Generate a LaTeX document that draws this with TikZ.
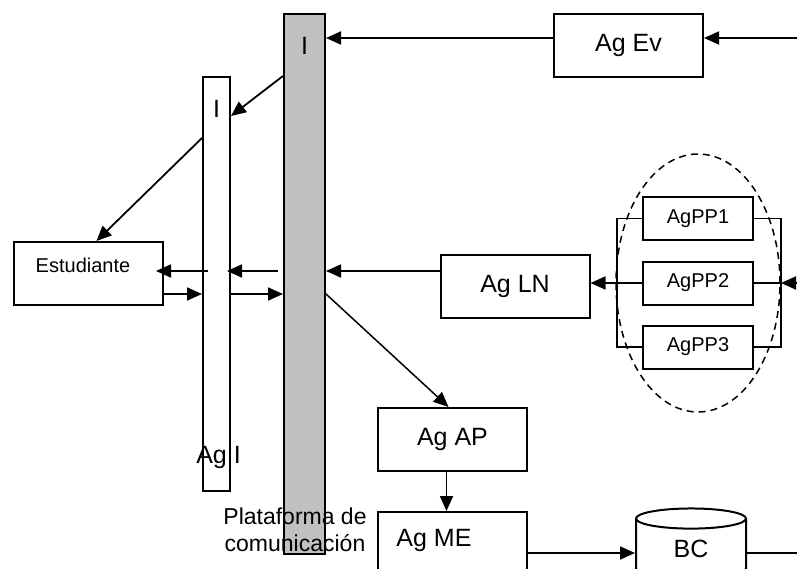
\documentclass[tikz,border=0pt]{standalone}
\usepackage{fontspec}
\setmainfont{Liberation Sans}
\usetikzlibrary{arrows.meta, shapes.geometric}

\newcommand{\agfont}{\fontsize{25}{30}\selectfont}
\newcommand{\ppfont}{\fontsize{20}{24}\selectfont}
\newcommand{\platfont}{\fontsize{23}{26.5}\selectfont}
\definecolor{platgray}{RGB}{192,192,192}

\begin{document}
\begin{tikzpicture}[
  x=1pt, y=-1pt,
  >={Triangle[length=15pt, width=13pt]},
  line width=1.8pt,
  % Node styles
  bar/.style={rectangle, draw, line width=2pt, inner sep=0pt},
  agent/.style={rectangle, draw, line width=2pt, inner sep=0pt, font=\agfont,
                minimum width=149pt, minimum height=63pt},
  ppbox/.style={rectangle, draw, line width=2pt, inner sep=0pt, font=\ppfont,
                minimum width=110pt, minimum height=43pt},
  txt/.style={inner sep=0pt, font=\agfont},
  % Edge styles
  arr/.style={->},
  link/.style={-}
]

\useasboundingbox (0,0) rectangle (797,569);
\clip (0,0) rectangle (797,569);

% ------------------------------------------------------------
% Bars: platform and Ag I
% ------------------------------------------------------------
\node[bar, fill=platgray, minimum width=41pt, minimum height=540pt] (plat) at (304.5,284) {};
\node[bar, minimum width=27pt, minimum height=414pt] (agi) at (216.5,284) {};

\node[txt] (platI) at (304.5,46) {I};
\node[txt] (agiI)  at (216.5,108.5) {I};
\node[txt] (agilbl) at (218.5,457) {Ag I};
\node[inner sep=0pt, font=\platfont, align=center] (platlbl) at (295,530) {Plataforma de\\comunicación};

% ------------------------------------------------------------
% Agents
% ------------------------------------------------------------
\node[agent] (est)  at (88.5,273.5) {};
\node[inner sep=0pt, font=\ppfont] (esttxt) at (83,265) {Estudiante};

\node[agent] (agev) at (628.5,45.5)  {Ag Ev};
\node[agent] (agln) at (515,286.5)   {Ag LN};
\node[agent] (agap) at (452.5,439.5) {Ag AP};
\node[agent] (agme) at (452.5,543.5) {};
\node[txt]   (agmetxt) at (434,540)  {Ag ME};

% group of AgPP agents
\node[draw, ellipse, dashed, dash pattern=on 7pt off 5pt, line width=1.5pt,
      minimum width=164pt, minimum height=258pt] (grp) at (698,283) {};
\node[ppbox] (pp1) at (698,218.5) {AgPP1};
\node[ppbox] (pp2) at (698,283)   {AgPP2};
\node[ppbox] (pp3) at (698,347)   {AgPP3};

% knowledge base
\node[cylinder, draw, shape border rotate=90, aspect=0.58, line width=2pt,
      minimum width=110pt, minimum height=70pt, inner sep=0pt, font=\agfont] (bc) at (691,549) {BC};

% ------------------------------------------------------------
% Helper coordinates (rows and page edge)
% ------------------------------------------------------------
\coordinate (evin) at (797,38);
\coordinate (ppin) at (797,283);
\coordinate (bcout) at (797,553);
\coordinate (row1) at (0,271);
\coordinate (row2) at (0,294);
\coordinate (row3) at (0,553);
\coordinate (lbr) at (617,0);
\coordinate (rbr) at (781,0);

% ------------------------------------------------------------
% Connectors
% ------------------------------------------------------------
\draw[arr] (evin) -- (evin -| agev.east);
\draw[arr] (evin -| agev.west) -- (evin -| plat.east);

\draw[arr] (plat.west |- agi.north) -- ([yshift=-40pt]agi.north east);
\draw[arr] ([yshift=-62pt]agi.north west) -- ([xshift=8pt]est.north);

% row 1: towards the student
\draw[arr] (row1 -| agln.west) -- (row1 -| plat.east);
\draw[arr, shorten <=5pt, shorten >=-4pt] (row1 -| plat.west) -- (row1 -| agi.east);
\draw[arr, shorten <=-6pt, shorten >=-8pt] (row1 -| agi.west) -- (row1 -| est.east);

% row 2: from the student
\draw[arr] (row2 -| est.east) -- (row2 -| agi.west);
\draw[arr] (row2 -| agi.east) -- (row2 -| plat.west);

\draw[arr, line width=1.5pt] (row2 -| plat.east) -- ([xshift=-4pt]agap.north);
\draw[arr] ([xshift=-6pt]agap.south) -- ([xshift=-6pt]agme.north);
\draw[arr] (row3 -| agme.east) -- (row3 -| bc.west);
\draw[link] (row3 -| bc.east) -- (bcout);

% AgPP group
\draw[link] (pp1.west) -- (pp1.west -| lbr) -- (pp3.west -| lbr) -- (pp3.west);
\draw[link] (pp1.east) -- (pp1.east -| rbr) -- (pp3.east -| rbr) -- (pp3.east);
\draw[arr] (pp2.west) -- (pp2.west -| agln.east);
\draw[link] (pp2.east) -- (pp2.east -| rbr);
\draw[arr] (ppin) -- (ppin -| rbr);

\end{tikzpicture}
\end{document}
